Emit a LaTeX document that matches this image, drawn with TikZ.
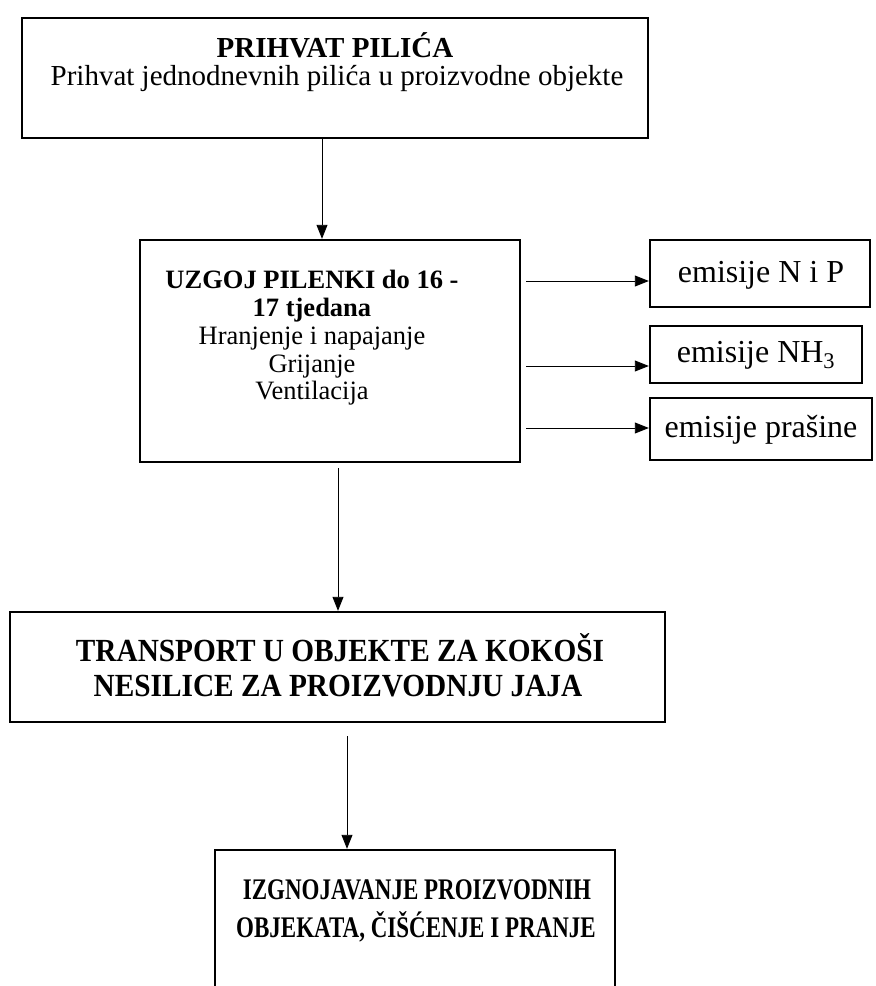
\documentclass[tikz,border=0pt]{standalone}
\usepackage{fontspec}
\usepackage{graphicx}
\setmainfont{Liberation Serif}
\usetikzlibrary{arrows.meta,calc}
\begin{document}
\begin{tikzpicture}[x=1pt,y=-1pt,
  box/.style={draw, line width=2.4pt, inner sep=0pt},
  arr/.style={-{Triangle[length=14pt,width=11pt]}, line width=0.9pt},
  txt/.style={inner sep=0pt, align=center},
  bigb/.style={inner sep=0pt, font=\fontsize{29.3}{33}\selectfont\bfseries},
  lowb/.style={inner sep=0pt, font=\fontsize{23}{33}\selectfont\bfseries}]
\useasboundingbox (0,0) rectangle (876,986);
\clip (0,0) rectangle (876,986);
% boxes
\node[box, minimum width=626pt, minimum height=120pt] (b1) at (335,78) {};
\node[box, minimum width=380pt, minimum height=222pt] (b2) at (330,351) {};
\node[box, minimum width=220pt, minimum height=67pt] (e1) at (760,273.5) {};
\node[box, minimum width=212pt, minimum height=57pt] (e2) at (756,354.5) {};
\node[box, minimum width=222pt, minimum height=62pt] (e3) at (761,429) {};
\node[box, minimum width=655pt, minimum height=110pt] (b3) at (337.5,667) {};
\node[box, minimum width=400pt, minimum height=150pt] (b4) at (415,925) {};
% texts
\node[txt, font=\fontsize{29}{33}\selectfont\bfseries] (t1a) at (335,45) {PRIHVAT PILIĆA};
\node[txt, font=\fontsize{29}{33}\selectfont] (t1b) at (337,78) {Prihvat jednodnevnih pilića u proizvodne objekte};
\node[txt, font=\fontsize{26.5}{27.75}\selectfont] (t2) at (312,338)
  {\textbf{UZGOJ PILENKI do 16 -}\\ \textbf{17 tjedana}\\ Hranjenje i napajanje\\ Grijanje\\ Ventilacija};
\node[txt, font=\fontsize{32}{33}\selectfont] (te1) at (761,275) {emisije N i P};
\node[txt, font=\fontsize{32}{33}\selectfont] (te2) at (756,355) {emisije NH\textsubscript{3}};
\node[txt, font=\fontsize{32}{33}\selectfont] (te3) at (761,430) {emisije prašine};
\node[bigb] (t3a) at (340,648) {\scalebox{1}[1.1]{TRANSPORT U OBJEKTE ZA KOKOŠI}};
\node[bigb] (t3b) at (338,686) {\scalebox{1}[1.1]{NESILICE ZA PROIZVODNJU JAJA}};
\node[lowb] (t4a) at (417,890) {\scalebox{1}[1.3]{IZGNOJAVANJE PROIZVODNIH}};
\node[lowb] (t4b) at (416,927) {\scalebox{1}[1.3]{OBJEKATA, ČIŠĆENJE I PRANJE}};
% connector start points
\coordinate (s1) at ($(b2.east)+(5,-70)$);
\coordinate (s2) at ($(b2.east)+(5,15)$);
\coordinate (s3) at ($(b2.east)+(5,77)$);
% arrows
\draw[arr] ($(b1.south)+(-13,0)$) -- ($(b2.north)+(-8,0)$);
\draw[arr] (s1) -- (s1 -| e1.west);
\draw[arr] (s2) -- (s2 -| e2.west);
\draw[arr] (s3) -- (s3 -| e3.west);
\draw[arr] ($(b2.south)+(8,5)$) -- ($(b3.north)+(0.5,0)$);
\draw[arr] ($(b3.south)+(9.5,13)$) -- ($(b4.north)+(-68,0)$);
\end{tikzpicture}
\end{document}
